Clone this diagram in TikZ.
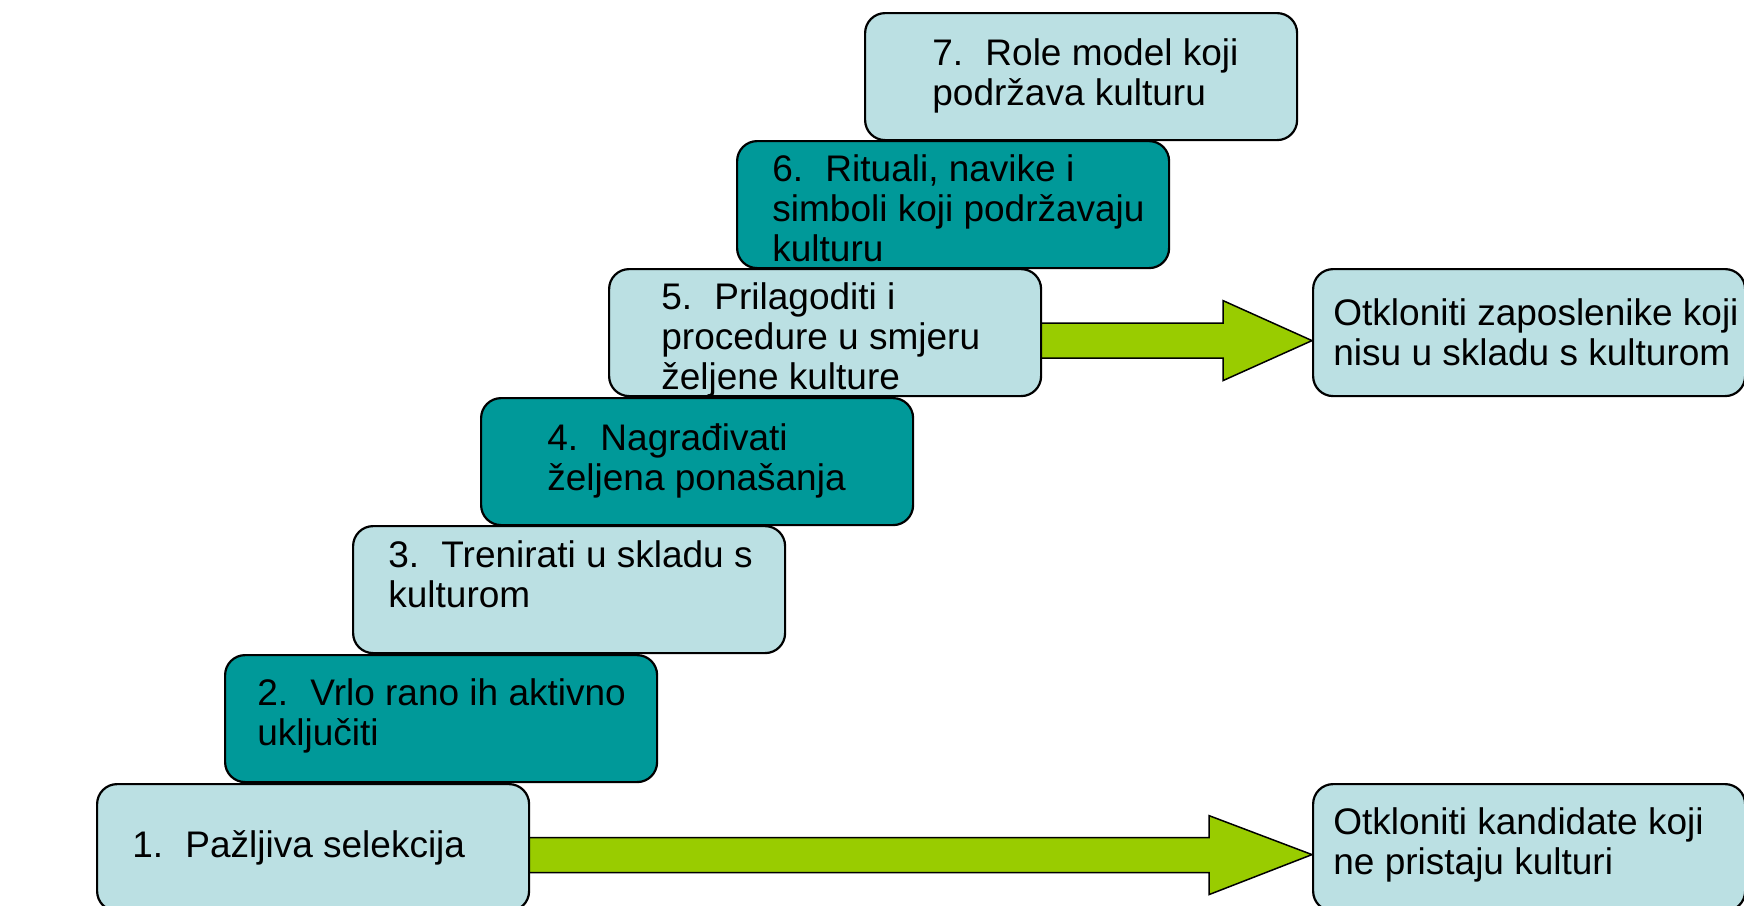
\documentclass[tikz,border=0pt]{standalone}
\usepackage{fontspec}
\setmainfont{Liberation Sans}
\usetikzlibrary{positioning, calc, backgrounds}
\definecolor{boxlight}{HTML}{BBE0E3}
\definecolor{boxteal}{HTML}{009999}
\definecolor{arrowgreen}{HTML}{99CC00}
\newcommand{\stepno}[1]{#1.\hspace{0.6em}}

\begin{document}
\begin{tikzpicture}[x=0.5pt, y=-0.5pt,
  stepbox/.style={rectangle, draw=black, line width=1.1pt, rounded corners=10pt, anchor=north west, minimum width=216pt, minimum height=63.5pt, inner sep=0pt},
  lightstep/.style={stepbox, fill=boxlight},
  darkstep/.style={stepbox, fill=boxteal},
  steptext/.style={align=left, inner sep=0pt, font=\fontsize{18.5pt}{20pt}\selectfont},
  flowarrow/.style={draw=black, line width=0.75pt, fill=arrowgreen, line join=miter}]
  \useasboundingbox (0,0) rectangle (1744,905);
  \node[lightstep] (s1) at (96,783) {};
  \node[darkstep] (s2) at (224,654) {};
  \node[lightstep] (s3) at (352,525) {};
  \node[darkstep] (s4) at (480,397) {};
  \node[lightstep] (s5) at (608,268) {};
  \node[darkstep] (s6) at (736,140) {};
  \node[lightstep] (s7) at (864,12) {};
  \node[lightstep] (r5) at (1312,268) {};
  \node[lightstep] (r1) at (1312,783) {};
  \node[steptext, right=18pt of s1.west] (t1) {\stepno{1}Pažljiva selekcija};
  \node[steptext, right=16.5pt of s2.west, yshift=1.5pt] (t2) {\stepno{2}Vrlo rano ih aktivno\\uključiti};
  \node[steptext, right=18pt of s3.west, yshift=7.5pt] (t3) {\stepno{3}Trenirati u skladu s\\kulturom};
  \node[steptext, right=33.5pt of s4.west, yshift=0.5pt] (t4) {\stepno{4}Nagrađivati\\željena ponašanja};
  \node[steptext, right=26.5pt of s5.west, yshift=-3.7pt] (t5) {\stepno{5}Prilagoditi i\\procedure u smjeru\\željene kulture};
  \node[steptext, right=18pt of s6.west, yshift=-2pt] (t6) {\stepno{6}Rituali, navike i\\simboli koji podržavaju\\kulturu};
  \node[steptext, right=34pt of s7.west, yshift=0.5pt] (t7) {\stepno{7}Role model koji\\podržava kulturu};
  \node[steptext, right=10.5pt of r5.west] (u5) {Otkloniti zaposlenike koji\\nisu u skladu s kulturom};
  \node[steptext, right=10.5pt of r1.west, yshift=1.5pt] (u1) {Otkloniti kandidate koji\\ne pristaju kulturi};
  \begin{scope}[on background layer]
    \coordinate (tipA) at ($(r5.west)+(0,8)$);
    \draw[flowarrow] (tipA) -- ++(-89,-40) -- ++(0,22.5) coordinate (a1) -- (s5.center |- a1) -- ++(0,35) coordinate (a2) -- (a1 |- a2) -- ++(0,22.5) -- cycle;
    \coordinate (tipB) at ($(r1.west)+(0,7)$);
    \draw[flowarrow] (tipB) -- ++(-103,-39) -- ++(0,22) coordinate (b1) -- (s1.center |- b1) -- ++(0,35) coordinate (b2) -- (b1 |- b2) -- ++(0,22) -- cycle;
  \end{scope}
\end{tikzpicture}
\end{document}
